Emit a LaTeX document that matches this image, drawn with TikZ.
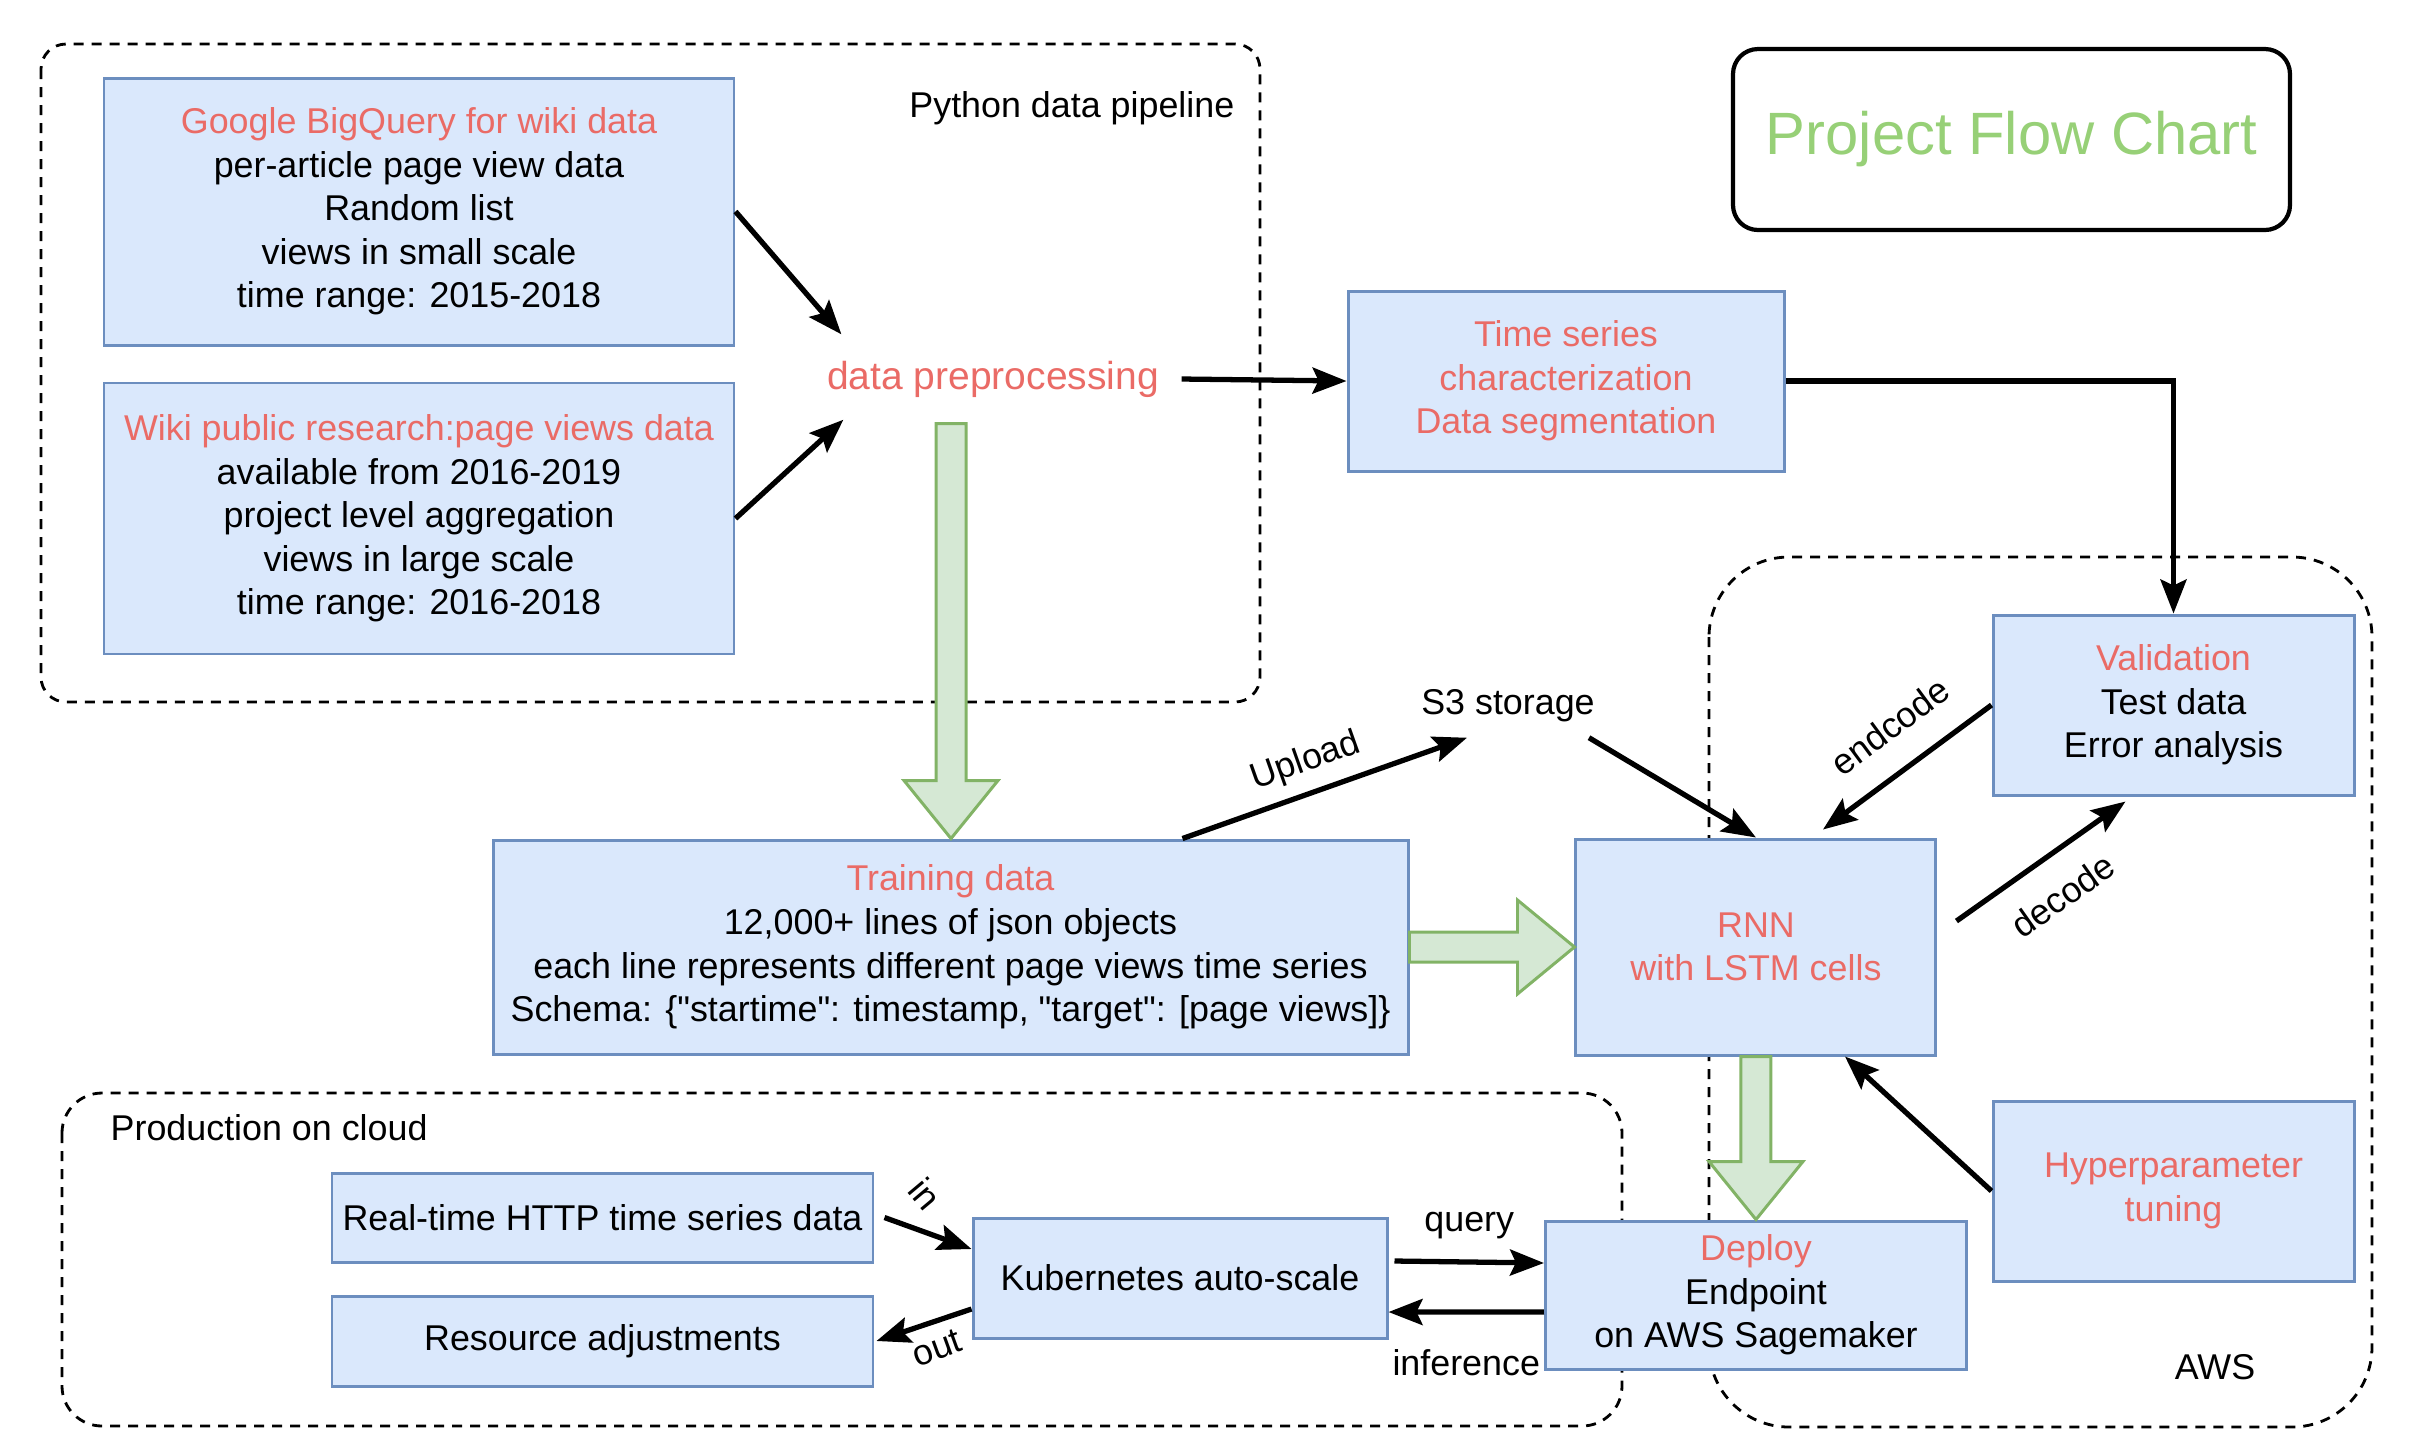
\documentclass[tikz,border=0pt]{standalone}
\usepackage{fontspec}
\setmainfont{Liberation Sans}
\usetikzlibrary{arrows.meta}
\usetikzlibrary{positioning,calc}

\definecolor{boxfill}{HTML}{DAE8FC}
\definecolor{boxline}{HTML}{6C8EBF}
\definecolor{hlred}{HTML}{EA6B66}
\definecolor{fatfill}{HTML}{D5E8D4}
\definecolor{fatline}{HTML}{82B366}
\definecolor{titlegreen}{HTML}{97D077}

\newcommand{\hl}[1]{\textcolor{hlred}{#1}}
\newcommand{\qq}{\textquotedbl}
% wide green arrows, tail -> tip
\newcommand{\fatdown}[2]{%
  \path[fatarrow] let \p1=(#1), \p2=(#2) in
    (\x1-1.5mm,\y1) -- (\x1+1.5mm,\y1) -- (\x1+1.5mm,\y2+5.8mm)
    -- (\x1+4.7mm,\y2+5.8mm) -- (\x1,\y2) -- (\x1-4.7mm,\y2+5.8mm)
    -- (\x1-1.5mm,\y2+5.8mm) -- cycle;}
\newcommand{\fatright}[2]{%
  \path[fatarrow] let \p1=(#1), \p2=(#2) in
    (\x1,\y1+1.5mm) -- (\x2-5.7mm,\y1+1.5mm) -- (\x2-5.7mm,\y1+4.7mm)
    -- (\x2,\y1) -- (\x2-5.7mm,\y1-4.7mm) -- (\x2-5.7mm,\y1-1.5mm)
    -- (\x1,\y1-1.5mm) -- cycle;}

\begin{document}
\begin{tikzpicture}[
  x=0.1mm, y=-0.1mm,
  >={Stealth[length=3.4mm,width=2.6mm,inset=0.6mm]},
  font=\fontsize{10.2}{12.4}\selectfont,
  box/.style={draw=boxline,fill=boxfill,line width=0.85pt,align=center,inner sep=2pt},
  group/.style={draw,dash pattern=on 1mm off 0.8mm,line width=0.8pt},
  arr/.style={->,line width=1.5pt},
  fatarrow/.style={draw=fatline,fill=fatfill,line width=0.85pt}
]
\useasboundingbox (0,0) rectangle (2433,1455);

% --- Dashed groups ---
\draw[group,rounded corners=2.5mm] (41,44) rectangle (1260,702);
\draw[group,rounded corners=8mm] (1709,557) rectangle (2372,1427);
\draw[group,rounded corners=4mm] (62,1093) rectangle (1622,1426);
\node[anchor=east,inner sep=0pt] (pylbl) at (1235,108) {Python data pipeline};
\node (awslbl) at (2215,1367) {AWS};
\node[anchor=west,inner sep=0pt] (prodlbl) at (110,1128) {Production on cloud};

% --- Title ---
\node[draw,rounded corners=2.5mm,line width=1.2pt,minimum width=55.7mm,minimum height=18.1mm,
  font=\fontsize{17}{20}\selectfont,text=titlegreen] (title) at (2011.5,139.5) {Project Flow Chart};

% --- Nodes ---
\node[box,minimum width=63mm,minimum height=26.7mm] (bigquery) at (419,211.5)
  {\hl{Google BigQuery for wiki data}\\per-article page view data\\Random list\\views in small scale\\time range: 2015-2018};
\node[box,minimum width=63mm,minimum height=27.1mm,below=3.5mm of bigquery] (wikipv)
  {\hl{Wiki public research:page views data}\\available from 2016-2019\\project level aggregation\\views in large scale\\time range: 2016-2018};
\node[inner xsep=0pt,minimum height=8.8mm,text=hlred,
  font=\fontsize{11.1}{13.4}\selectfont] (prep) at (993,379) {data preprocessing};
\node[box,minimum width=43.6mm,minimum height=18mm,text=hlred] (timeseries) at (1566,381)
  {Time series\\characterization\\Data segmentation};
\node[box,minimum width=36.1mm,minimum height=18mm] (validation) at (2173.5,705)
  {\hl{Validation}\\Test data\\Error analysis};
\node[minimum height=6.2mm] (s3) at (1508,706) {S3 storage};
\node[box,minimum width=91.5mm,minimum height=21.4mm] (training) at (950.5,947)
  {\hl{Training data}\\12,000+ lines of json objects\\each line represents different page views time series\\Schema: \{\qq startime\qq: timestamp, \qq target\qq: [page views]\}};
\node[box,minimum width=36mm,minimum height=21.6mm,text=hlred,right=16.5mm of training] (rnn)
  {RNN\\with LSTM cells};
\node[box,minimum width=36.1mm,minimum height=18mm,text=hlred,below=30.3mm of validation] (hyper)
  {Hyperparameter\\tuning};
\node[box,minimum width=42.1mm,minimum height=14.8mm,below=16.3mm of rnn] (deploy)
  {\hl{Deploy}\\Endpoint\\on AWS Sagemaker};
\node[box,minimum width=41.4mm,minimum height=12mm] (kube) at (1180,1278) {Kubernetes auto-scale};
\node[box,minimum width=54.1mm,minimum height=8.9mm] (http) at (602.5,1217.5) {Real-time HTTP time series data};
\node[box,minimum width=54.1mm,minimum height=9mm,below=3.1mm of http] (resource) {Resource adjustments};

% --- Wide arrows ---
\fatdown{[xshift=-4.2mm]prep.south}{training.north}
\fatright{training.east}{rnn.west}
\fatdown{rnn.south}{deploy.north}

% --- Connectors ---
\draw[arr] (bigquery.east) -- ([xshift=1.5mm]prep.north west);
\draw[arr] (wikipv.east) -- ([xshift=1.7mm,yshift=0.4mm]prep.south west);
\draw[arr] ([xshift=2.2mm]prep.east) -- (timeseries.west);
\draw[arr] (timeseries.east) -| (validation.north);
\draw[arr] ([xshift=23.2mm]training.north) -- node[sloped,above,pos=0.47] {Upload} ([xshift=-4.1mm]s3.south);
\draw[arr] ([xshift=8.1mm]s3.south) -- (rnn.north);
\draw[arr] (validation.west) -- node[sloped,above=1.6mm,pos=0.45] {endcode} ([xshift=6.7mm,yshift=0.8mm]rnn.north);
\draw[arr] ([xshift=1.9mm,yshift=2.6mm]rnn.east) -- node[sloped,below=1.3mm,pos=0.49] {decode} ([xshift=-4.8mm,yshift=-0.5mm]validation.south);
\draw[arr] (hyper.west) -- ([xshift=8.9mm]rnn.south);
\draw[arr] ([xshift=1mm]http.east) -- ([yshift=2.9mm]kube.west);
\draw[arr] ([yshift=-3.1mm]kube.west) -- ([xshift=0.2mm]resource.east);
\draw[arr] ([xshift=0.6mm,yshift=1.7mm]kube.east) -- node[above=0.9mm] {query} ([yshift=3.2mm]deploy.west);
\draw[arr] ([yshift=-1.7mm]deploy.west) -- node[below=2.3mm] {inference} ([yshift=-3.4mm]kube.east);
\node[rotate=-50] (inlbl) at (925,1194) {in};
\node[rotate=20] (outlbl) at (937,1348) {out};

\end{tikzpicture}
\end{document}
